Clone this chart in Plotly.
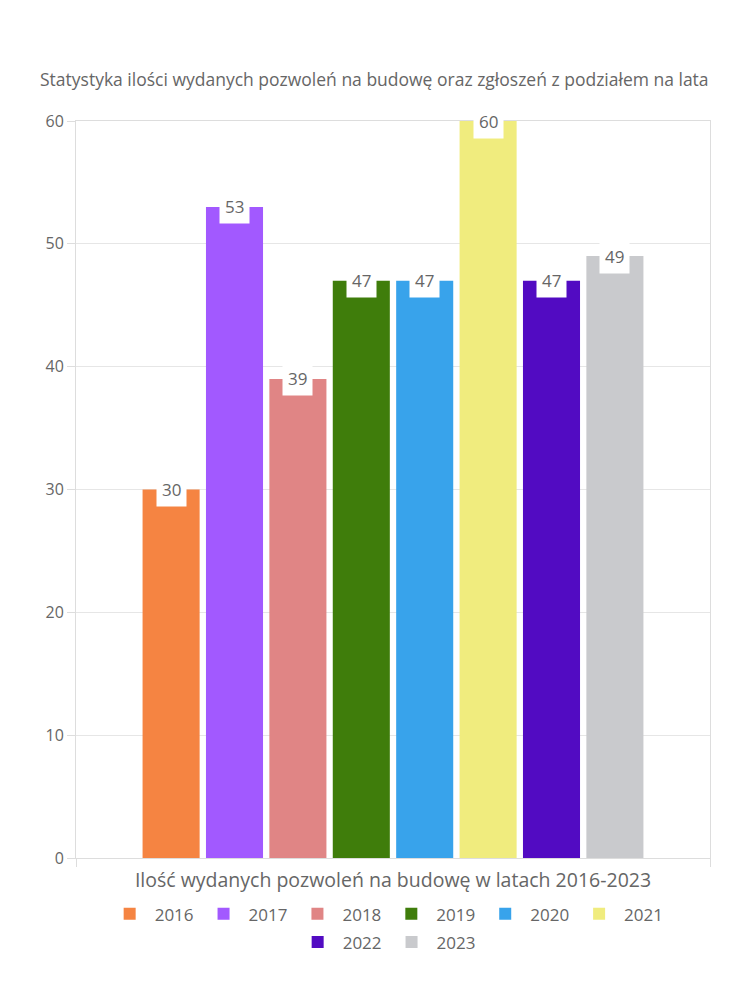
import plotly.graph_objects as go

years = ["2016", "2017", "2018", "2019", "2020", "2021", "2022", "2023"]
values = [30, 53, 39, 47, 47, 60, 47, 49]
colors = ["#F58442", "#A259FF", "#E08585", "#3F7D0B", "#38A3EB", "#F0EC7E", "#520BC2", "#C9CACD"]
category = ["Ilość wydanych pozwoleń na budowę w latach 2016-2023"]
title_text = "Statystyka ilości wydanych pozwoleń na budowę oraz zgłoszeń z podziałem na lata"

FONT = "Open Sans"
TXT = "#666666"

bargap = 0.2
bargroupgap = 0.1

fig = go.Figure()
for i, (y, v, c) in enumerate(zip(years, values, colors)):
    fig.add_trace(go.Bar(x=[0], y=[v], name=y, marker=dict(color=c, line=dict(width=0)),
                         legend="legend" if i < 6 else "legend2"))

n = len(years)
gw = 1 - bargap
step = gw / n
for i, v in enumerate(values):
    xc = -gw / 2 + (i + 0.5) * step
    fig.add_annotation(x=xc, y=v, xref="x", yref="y", text=str(v), showarrow=False,
                       yanchor="middle", xanchor="center",
                       bgcolor="white", borderpad=5,
                       font=dict(family=FONT, size=17, color=TXT))

legend_common = dict(orientation="h", x=0.49, xanchor="center", yanchor="top",
                     font=dict(family=FONT, size=17, color=TXT), itemwidth=40,
                     traceorder="normal", bgcolor="rgba(0,0,0,0)")

fig.update_layout(
    width=750, height=1000,
    margin=dict(l=76, r=40, t=121, b=142),
    paper_bgcolor="white", plot_bgcolor="white",
    barmode="group", bargap=bargap, bargroupgap=bargroupgap,
    font=dict(family=FONT, color=TXT),
    title=dict(text=title_text, xref="container", yref="container",
               x=40/750, xanchor="left", y=1-80/1000, yanchor="middle",
               font=dict(family=FONT, size=17.5, color=TXT)),
    xaxis=dict(type="linear", range=[-0.5, 0.5], showticklabels=False,
               showgrid=False, zeroline=False, showline=True, mirror=True,
               linecolor="#dddddd", ticks="outside", tickvals=[-0.5, 0.5],
               ticklen=8, tickcolor="#dddddd",
               title=dict(text=category[0], standoff=7,
                          font=dict(family=FONT, size=19.5, color=TXT))),
    yaxis=dict(range=[0, 60], dtick=10, showgrid=True, gridcolor="#e6e6e6",
               zeroline=False, showline=True, mirror=True, linecolor="#dddddd",
               ticks="outside", ticklen=8, tickcolor="#dddddd",
               tickfont=dict(family=FONT, size=16, color=TXT)),
    legend=dict(y=-0.052, **legend_common),
    legend2=dict(y=-0.09, **legend_common),
)

fig.write_html("out.html")
